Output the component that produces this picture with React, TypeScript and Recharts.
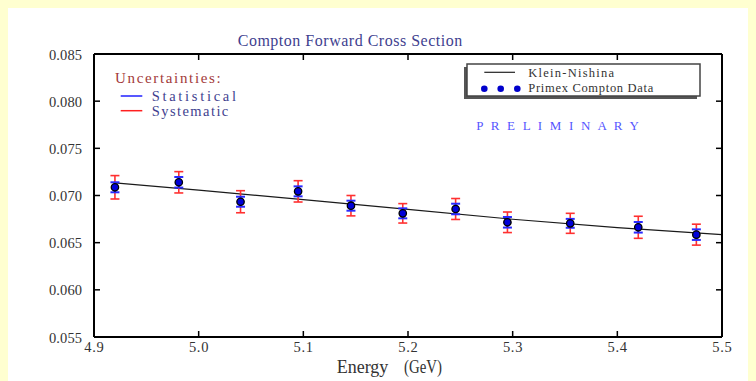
import React from 'react';
import { ComposedChart, Line, Scatter, ErrorBar, XAxis, YAxis } from 'recharts';

// ---- data ----
const energies = [4.92, 4.981, 5.04, 5.095, 5.1455, 5.195, 5.2455, 5.295, 5.355, 5.42, 5.4755];
const crossSection = [0.07087, 0.0714, 0.06934, 0.07044, 0.06892, 0.06811, 0.06857, 0.06716, 0.06705, 0.06663, 0.06585];
const statErr = [0.00053, 0.00056, 0.00053, 0.00053, 0.00053, 0.00053, 0.00056, 0.00056, 0.00047, 0.00056, 0.00056];
const sysErr = [0.00124, 0.00113, 0.00117, 0.00113, 0.00108, 0.00103, 0.00111, 0.00109, 0.00106, 0.00117, 0.00111];

const knEnergies = [4.92, 5.0, 5.1, 5.2, 5.3, 5.4, 5.5];
const knValues = [0.07133, 0.07058, 0.06956, 0.06853, 0.06748, 0.0666, 0.06585];

const xTicks = [4.9, 5.0, 5.1, 5.2, 5.3, 5.4, 5.5];
const yTicks = [0.055, 0.06, 0.065, 0.07, 0.075, 0.08, 0.085];

const points = energies.map((e, i) => ({ e, cs: crossSection[i], stat: statErr[i], sys: sysErr[i] }));
const klein = knEnergies.map((e, i) => ({ e, kn: knValues[i] }));

if (typeof document !== 'undefined') {
  document.documentElement.style.background = '#ffffd0';
  document.body.style.background = '#ffffd0';
  document.documentElement.style.overflow = 'hidden';
  document.body.style.overflow = 'hidden';
}

const FONT = '"Liberation Serif", "Times New Roman", serif';
const TICK_COLOR = '#333';
const TICK_LEN = 6;

const LeftTick = (props: any) => {
  const { x, y, payload } = props;
  return (
    <g>
      <line x1={x} x2={x + TICK_LEN} y1={y} y2={y} stroke="#000" strokeWidth={1.5} />
      <text x={x - 12} y={y + 5.5} textAnchor="end" fontFamily={FONT} fontSize={14.5} fill={TICK_COLOR}
        textLength={33} lengthAdjust="spacing">
        {Number(payload.value).toFixed(3)}
      </text>
    </g>
  );
};

const RightTick = (props: any) => {
  const { x, y } = props;
  return <line x1={x} x2={x - TICK_LEN} y1={y} y2={y} stroke="#000" strokeWidth={1.5} />;
};

const BottomTick = (props: any) => {
  const { x, y, payload } = props;
  return (
    <g>
      <line x1={x} x2={x} y1={y} y2={y - TICK_LEN} stroke="#000" strokeWidth={1.5} />
      <text x={x} y={y + 14.7} textAnchor="middle" fontFamily={FONT} fontSize={14.5} fill={TICK_COLOR}
        textLength={19.5} lengthAdjust="spacing">
        {Number(payload.value).toFixed(1)}
      </text>
    </g>
  );
};

const TopTick = (props: any) => {
  const { x, y } = props;
  return <line x1={x} x2={x} y1={y} y2={y + TICK_LEN} stroke="#000" strokeWidth={1.5} />;
};

const DataDot = (props: any) => {
  const { cx, cy } = props;
  if (cx == null || cy == null) return null;
  return <circle cx={cx} cy={cy} r={3.7} fill="#0000d8" stroke="#000" strokeWidth={1.3} />;
};

const axisLine = { stroke: '#000', strokeWidth: 2 };

export default function App() {
  return (
    <div style={{ position: 'relative', width: 748, height: 373, background: '#ffffff' }}>
      <ComposedChart width={748} height={373} margin={{ top: 45, right: 33, bottom: 0, left: 0 }}>
        <XAxis xAxisId="b" dataKey="e" type="number" orientation="bottom" domain={[4.9, 5.5]} ticks={xTicks}
          interval={0} allowDataOverflow height={44} tickLine={false} tickSize={0} tickMargin={0}
          axisLine={axisLine} tick={BottomTick} />
        <XAxis xAxisId="t" dataKey="e" type="number" orientation="top" domain={[4.9, 5.5]} ticks={xTicks}
          interval={0} allowDataOverflow height={1} tickLine={false} tickSize={0} tickMargin={0}
          axisLine={axisLine} tick={TopTick} />
        <YAxis yAxisId="l" type="number" orientation="left" domain={[0.055, 0.085]} ticks={yTicks}
          interval={0} allowDataOverflow width={86} tickLine={false} tickSize={0} tickMargin={0}
          axisLine={axisLine} tick={LeftTick} />
        <YAxis yAxisId="r" type="number" orientation="right" domain={[0.055, 0.085]} ticks={yTicks}
          interval={0} allowDataOverflow width={1} tickLine={false} tickSize={0} tickMargin={0}
          axisLine={axisLine} tick={RightTick} />
        <Line xAxisId="b" yAxisId="l" data={klein} dataKey="kn" type="linear" stroke="#1a1a1a"
          strokeWidth={1.2} dot={false} activeDot={false} isAnimationActive={false} />
        <Scatter xAxisId="b" yAxisId="l" data={points} dataKey="cs" shape={DataDot} isAnimationActive={false}>
          <ErrorBar dataKey="sys" direction="y" width={4.5} stroke="#ff3030" strokeWidth={1.6} isAnimationActive={false} />
          <ErrorBar dataKey="stat" direction="y" width={4.5} stroke="#2a2aff" strokeWidth={2} isAnimationActive={false} />
        </Scatter>
      </ComposedChart>
      <svg width={756} height={381} style={{ position: 'absolute', left: -8, top: -8, pointerEvents: 'none', overflow: 'visible' }}>
        <text x={237.7} y={45.7} fontFamily={FONT} fontSize={16} fill="#3f3f8f" textLength={224.6} lengthAdjust="spacing">
          Compton Forward Cross Section
        </text>
        <text y={373.3} fontFamily={FONT} fontSize={18} fill="#333">
          <tspan x={336.7}>Energy </tspan>
          <tspan x={404} textLength={38} lengthAdjust="spacingAndGlyphs">(GeV)</tspan>
        </text>
        <text x={115} y={82.7} fontFamily={FONT} fontSize={15} fill="#a33a3a" textLength={105.7} lengthAdjust="spacing">
          Uncertainties:
        </text>
        <line x1={120.7} x2={142.3} y1={96} y2={96} stroke="#2020ff" strokeWidth={1.5} />
        <text x={151.7} y={100.7} fontFamily={FONT} fontSize={14.5} fill="#3f3f8f" textLength={84.3} lengthAdjust="spacing">
          Statistical
        </text>
        <line x1={120.7} x2={142.3} y1={110.7} y2={110.7} stroke="#ff2020" strokeWidth={1.5} />
        <text x={151.7} y={115.7} fontFamily={FONT} fontSize={14.5} fill="#3f3f8f" textLength={76.6} lengthAdjust="spacing">
          Systematic
        </text>
        <rect x={464} y={67} width={233} height={32} fill="#555" />
        <rect x={467} y={64} width={233} height={32} fill="#fff" stroke="#444" strokeWidth={1.5} />
        <line x1={484.3} x2={515} y1={72.3} y2={72.3} stroke="#222" strokeWidth={1.2} />
        <text x={528.3} y={77} fontFamily={FONT} fontSize={12.5} fill="#333" textLength={85.7} lengthAdjust="spacing">
          Klein-Nishina
        </text>
        <circle cx={484.3} cy={88.7} r={3.3} fill="#0000cc" />
        <circle cx={500.7} cy={88.7} r={3.3} fill="#0000cc" />
        <circle cx={517.3} cy={88.7} r={3.3} fill="#0000cc" />
        <text x={528.3} y={92.3} fontFamily={FONT} fontSize={12.5} fill="#333" textLength={125} lengthAdjust="spacing">
          Primex Compton Data
        </text>
        <text x={476.3} y={130} fontFamily={FONT} fontSize={13} fill="#5555ff" textLength={162.7} lengthAdjust="spacing">
          P R E L I M I N A R Y
        </text>
      </svg>
    </div>
  );
}
